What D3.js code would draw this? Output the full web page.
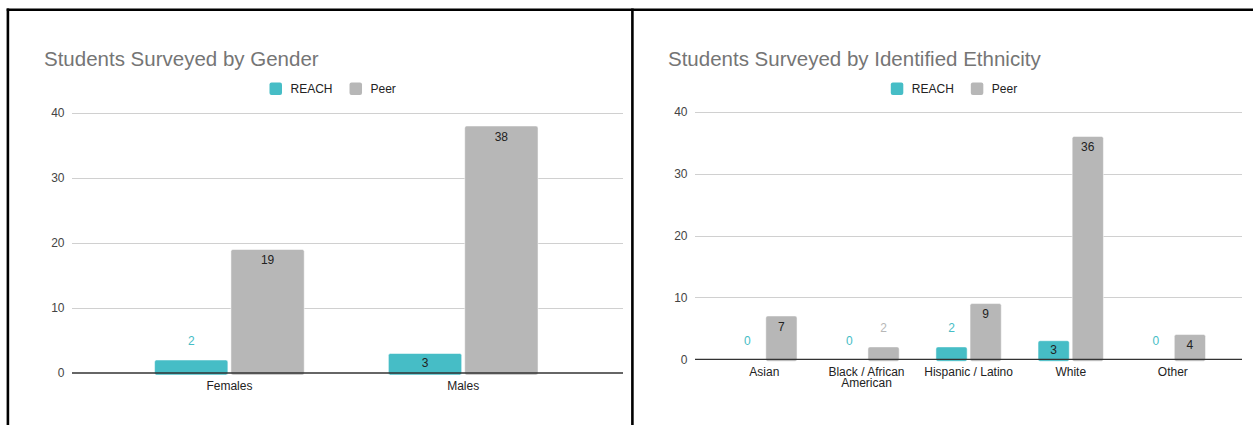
<!DOCTYPE html>
<html>
<head>
<meta charset="utf-8">
<script src="https://cdn.jsdelivr.net/npm/d3@7"></script>
<style>
  html, body { margin: 0; padding: 0; background: #fff; }
  svg { display: block; font-family: Arial, "Liberation Sans", sans-serif; }
</style>
</head>
<body>
<svg id="chart" width="1253" height="425"></svg>
<script>
// === data ===
const seriesNames = ["REACH", "Peer"];
const seriesColors = ["#46bdc6", "#b7b7b7"];

const genderCategories = ["Females", "Males"];
const genderReach = [2, 3];
const genderPeer = [19, 38];

const ethnicityCategories = ["Asian", "Black / African\nAmerican", "Hispanic / Latino", "White", "Other"];
const ethnicityReach = [0, 0, 2, 3, 0];
const ethnicityPeer = [7, 2, 9, 36, 4];

const yTicks = [0, 10, 20, 30, 40];

const svg = d3.select("#chart");

// === frame lines ===
const frame = svg.append("g").attr("stroke", "#000").attr("stroke-width", 2.6);
frame.append("line").attr("x1", 6.7).attr("x2", 1253).attr("y1", 9.8).attr("y2", 9.8);
frame.append("line").attr("x1", 7.9).attr("x2", 7.9).attr("y1", 8.5).attr("y2", 425);
frame.append("line").attr("x1", 632.4).attr("x2", 632.4).attr("y1", 8.5).attr("y2", 425);

// === one chart ===
function drawChart(cfg) {
  const g = svg.append("g");

  const y = d3.scaleLinear().domain([0, 40]).range([cfg.y0, cfg.y40]);
  const x0 = d3.scaleBand().domain(cfg.categories)
    .range(cfg.bandRange).paddingInner(0.36).paddingOuter(0.18);
  const x1 = d3.scaleBand().domain(seriesNames)
    .range([0, x0.bandwidth()]).paddingInner(cfg.innerPad);

  // title
  g.append("text")
    .attr("x", cfg.titleX).attr("y", 66)
    .attr("fill", "#757575")
    .style("font-size", "20.5px")
    .text(cfg.title);

  // legend
  let lx = cfg.legendX;
  seriesNames.forEach((name, i) => {
    g.append("rect")
      .attr("x", lx).attr("y", 82.5).attr("width", 12.5).attr("height", 12.5)
      .attr("rx", 2).attr("fill", seriesColors[i]);
    const t = g.append("text")
      .attr("x", lx + 21).attr("y", 92.5)
      .attr("fill", "#222").style("font-size", "12px")
      .text(name);
    lx += 21 + t.node().getComputedTextLength() + 17;
  });

  // gridlines + y labels
  const yAxis = d3.axisLeft(y).tickValues(yTicks).tickSize(0).tickPadding(0);
  const ya = g.append("g")
    .attr("transform", `translate(${cfg.labelRight},0)`)
    .call(yAxis);
  ya.select(".domain").remove();
  ya.selectAll("text").attr("fill", "#444").style("font-size", "12px")
    .style("font-family", "Arial, 'Liberation Sans', sans-serif");

  g.append("g").selectAll("line")
    .data(yTicks.filter(d => d > 0))
    .join("line")
    .attr("x1", cfg.gridX[0]).attr("x2", cfg.gridX[1])
    .attr("y1", d => Math.round(y(d)) + 0.5).attr("y2", d => Math.round(y(d)) + 0.5)
    .attr("stroke", "#d0d0d0").attr("stroke-width", 1);

  // bars
  const rows = cfg.categories.map((c, i) => ({
    cat: c,
    values: [cfg.reach[i], cfg.peer[i]]
  }));

  const groups = g.append("g").selectAll("g")
    .data(rows)
    .join("g")
    .attr("transform", d => `translate(${x0(d.cat)},0)`);

  const cells = groups.selectAll("g")
    .data(d => d.values.map((v, i) => ({ v, s: seriesNames[i], i })))
    .join("g");

  cells.filter(d => d.v > 0).append("rect")
    .attr("x", d => x1(d.s))
    .attr("y", d => y(d.v))
    .attr("width", x1.bandwidth())
    .attr("height", d => y(0) - y(d.v) + 2)
    .attr("rx", 2)
    .attr("fill", d => seriesColors[d.i])
    .attr("stroke", "rgba(255,255,255,0.5)")
    .attr("stroke-width", 1);

  // value labels
  cells.append("text")
    .attr("x", d => x1(d.s) + x1.bandwidth() / 2)
    .attr("y", d => {
      const h = y(0) - y(d.v);
      return h >= 15 ? y(d.v) + Math.min(10.5, h / 2) : y(d.v) - 19;
    })
    .attr("dy", "0.35em")
    .attr("text-anchor", "middle")
    .attr("fill", d => (y(0) - y(d.v) >= 15) ? "#222" : seriesColors[d.i])
    .style("font-size", "12px")
    .text(d => d.v);

  // baseline
  g.append("line")
    .attr("x1", cfg.gridX[0]).attr("x2", cfg.gridX[1])
    .attr("y1", y(0)).attr("y2", y(0))
    .attr("stroke", "#333").attr("stroke-width", 1.3);

  // category labels
  const xl = g.append("g").selectAll("text")
    .data(cfg.categories)
    .join("text")
    .attr("x", d => x0(d) + x0.bandwidth() / 2)
    .attr("y", cfg.xLabelY)
    .attr("text-anchor", "middle")
    .attr("fill", "#222")
    .style("font-size", "12px");
  xl.each(function (d) {
    const el = d3.select(this);
    d.split("\n").forEach((line, k) => {
      el.append("tspan")
        .attr("x", x0(d) + x0.bandwidth() / 2)
        .attr("dy", k === 0 ? 0 : 11.8)
        .text(line);
    });
  });
}

drawChart({
  title: "Students Surveyed by Gender",
  categories: genderCategories,
  reach: genderReach,
  peer: genderPeer,
  titleX: 44,
  legendX: 269.5,
  labelRight: 64.5,
  gridX: [72, 623],
  bandRange: [112.5, 580.1],
  innerPad: 0.04,
  y0: 373,
  y40: 113,
  xLabelY: 390
});

drawChart({
  title: "Students Surveyed by Identified Ethnicity",
  categories: ethnicityCategories,
  reach: ethnicityReach,
  peer: ethnicityPeer,
  titleX: 668,
  legendX: 890.8,
  labelRight: 687.5,
  gridX: [695, 1242],
  bandRange: [713.3, 1223.9],
  innerPad: 0.085,
  y0: 359.3,
  y40: 111.7,
  xLabelY: 375.5
});
</script>
</body>
</html>
